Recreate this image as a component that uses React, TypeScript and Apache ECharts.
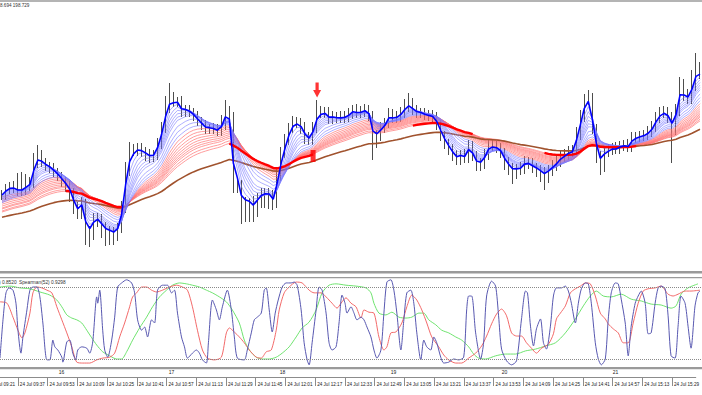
import React, { useEffect, useRef } from "react";
import * as echarts from "echarts";

// ---- price bars (close per bar, wick extensions above / below body) ----
const closes = [
  105, 111, 113, 112, 109, 110, 114, 117, 137, 145, 138, 134, 132, 128, 124, 119,
  114, 108, 94, 87, 97, 70, 68, 81, 82, 74, 69, 69, 67, 73, 93, 130,
  150, 150, 152, 149, 146, 143, 145, 156, 172, 192, 202, 198, 198, 188, 190, 188,
  184, 179, 175, 171, 172, 171, 169, 175, 188, 180, 115, 115, 96, 98, 98, 93,
  102, 107, 107, 106, 98, 125, 147, 160, 172, 178, 177, 172, 162, 160, 172, 187,
  188, 187, 181, 183, 182, 182, 183, 186, 190, 187, 188, 190, 185, 160, 165, 172,
  177, 186, 182, 183, 187, 193, 196, 190, 187, 187, 185, 184, 183, 176, 165, 157,
  151, 145, 141, 145, 143, 154, 145, 135, 137, 145, 155, 154, 152, 148, 138, 133,
  129, 131, 132, 138, 137, 133, 131, 128, 125, 130, 134, 138, 143, 145, 148, 149,
  165, 183, 200, 202, 172, 145, 134, 148, 150, 152, 151, 154, 155, 153, 162, 163,
  164, 165, 168, 173, 182, 187, 188, 183, 173, 190, 215, 205, 202, 215, 230, 227,
];
const hiExt = [
  5, 5, 5, 6, 15, 18, 12, 6, 10, 10, 5, 4, 4, 5, 4, 4,
  4, 5, 4, 4, 6, 4, 4, 6, 5, 4, 4, 5, 4, 4, 6, 8,
  8, 6, 5, 5, 4, 5, 5, 6, 6, 12, 15, 6, 5, 6, 5, 5,
  4, 5, 4, 5, 4, 5, 5, 10, 12, 6, 8, 6, 5, 5, 4, 6,
  5, 5, 5, 5, 4, 6, 6, 6, 5, 6, 5, 5, 6, 6, 6, 13,
  6, 5, 6, 6, 5, 7, 6, 6, 5, 6, 6, 6, 5, 4, 5, 6,
  5, 6, 5, 6, 6, 8, 11, 6, 5, 5, 5, 5, 6, 5, 4, 4,
  4, 5, 5, 5, 6, 6, 5, 4, 5, 6, 6, 5, 5, 5, 4, 5,
  4, 5, 6, 6, 5, 5, 4, 4, 5, 5, 6, 6, 6, 6, 6, 6,
  8, 7, 6, 8, 5, 4, 4, 6, 6, 5, 6, 5, 5, 6, 6, 5,
  5, 5, 6, 6, 6, 6, 6, 5, 5, 6, 8, 6, 6, 15, 17, 8,
];
const loExt = [
  5, 5, 5, 5, 5, 5, 5, 5, 5, 5, 5, 5, 5, 5, 5, 6,
  6, 10, 8, 6, 6, 15, 15, 8, 8, 12, 15, 14, 12, 8, 6, 6,
  6, 6, 6, 6, 7, 6, 5, 5, 5, 5, 5, 5, 5, 5, 5, 5,
  5, 5, 5, 5, 5, 5, 5, 5, 5, 8, 8, 8, 20, 18, 20, 15,
  10, 10, 15, 15, 8, 6, 6, 5, 5, 5, 5, 6, 6, 5, 5, 5,
  5, 5, 5, 5, 5, 5, 5, 5, 5, 5, 5, 5, 6, 20, 8, 6,
  5, 5, 5, 5, 5, 5, 5, 5, 5, 5, 5, 5, 5, 6, 6, 6,
  6, 6, 6, 6, 6, 6, 6, 6, 6, 6, 5, 5, 5, 6, 8, 8,
  13, 8, 6, 6, 6, 6, 8, 10, 15, 8, 6, 5, 5, 5, 5, 5,
  5, 5, 5, 5, 6, 8, 9, 6, 5, 5, 5, 5, 5, 5, 5, 5,
  5, 5, 5, 5, 5, 5, 5, 6, 36, 8, 6, 6, 6, 6, 6, 6,
];

// ---- moving average ribbons ----
const bluePeriods = [2, 3, 4, 5, 6, 7, 8, 10, 12, 14];
const blueSeeds = [105, 104, 103, 102, 101, 100, 99, 98, 97, 96];
const redPeriods = [16, 18, 20, 22, 24, 26, 28, 30, 33, 36];
const redSeeds = [103, 101, 99, 97, 95, 93, 91, 90, 88, 87];
const brownPeriod = 60;
const brownSeed = 82;
const thickRedSegments = [[16, 30], [57, 78], [103, 118], [136, 159]];

// signals
const squareSignal = [[78, 144]];
const arrowSignal = [[79, 210]];

// ---- Spearman oscillators: [bar, value] ----
const spearmanFast = [
  [-0.5, -0.78], [0.25, 0.07], [1, 0.67], [1.75, 0.78], [2.75, 0.73], [3.5, 0.44], [4, -0.16], [4.75, -0.67], [5.25, -0.31], [6.25, 0.29], [7, 0.73], [7.75, 0.8], [8.75, 0.8], [9.5, 0.58], [10.25, 0], [11.25, -0.82], [12, -0.82], [12.75, -0.38], [13.25, -0.53], [14, -0.6], [15, -0.76], [15.25, -0.87], [16.25, -0.42], [17, -0.38], [17.75, -0.67], [18.5, -0.82], [19, -0.6], [20, -0.53], [21.25, -0.56], [22, -0.67], [22.75, -0.42], [23.75, 0.58], [24, 0.44], [24.5, 0.73], [25.25, -0.16], [25.75, -0.6], [26.5, -0.76], [27.5, -0.38], [28.25, 0.13], [29, 0.8], [30, 0.89], [31.25, 0.96], [32.5, 0.89], [33.25, 0.67], [34, 0.07], [35, -0.16], [35.75, -0.09], [36.5, -0.31], [37.5, 0.07], [38.25, 0], [39, 0.73], [40.25, 0.84], [41.5, 0.84], [42.5, 0.67], [43.25, 0.73], [44, 0.22], [45, -0.31], [45.75, -0.53], [46.5, -0.78], [47.75, -0.67], [48.75, -0.6], [49.5, -0.67], [50.25, -0.82], [51.25, -0.89], [51.75, -0.44], [52.75, 0.51], [53.75, 0.29], [54.5, 0.07], [55.25, 0.36], [56.5, 0.73], [57.5, 0.29], [58.25, -0.31], [59, -0.78], [60.75, -0.82], [61.5, -0.6], [62.5, -0.22], [63.25, 0.07], [64, 0.13], [65, 0.22], [65.75, 0.73], [66.25, 0.78], [67, 0.29], [67.75, -0.2], [68.5, 0.22], [69.25, 0.51], [70.25, 0.8], [71.25, 0.89], [72.5, 0.89], [73.25, 0.91], [74, 0.84], [75, 0.29], [75.75, -0.44], [76.5, -0.82], [77, -0.93], [77.75, -0.44], [78.75, 0.29], [79.5, 0.8], [80.25, 0.73], [81.25, 0.22], [82, -0.44], [82.75, -0.6], [83.75, -0.53], [84.5, 0], [85.25, 0.62], [86, 0.44], [86.5, 0.22], [87.5, 0.36], [88.25, 0.22], [89, 0.07], [90, 0.13], [90.75, 0.07], [91.5, -0.09], [92.5, -0.31], [93.25, -0.6], [94, -0.78], [95, -0.6], [95.75, 0.22], [96.5, 0.91], [97.5, 0.96], [98.25, 0.73], [99, 0.22], [100, -0.6], [100.75, 0.07], [101.5, 0.67], [102.5, 0.73], [103.25, 0.44], [104, -0.22], [105, -0.82], [105.75, -0.38], [106.5, -0.53], [107.5, -0.6], [108.25, -0.31], [109, -0.44], [110, -0.76], [110.75, -0.89], [112, -0.87], [113.25, -0.8], [114.5, -0.82], [115.75, -0.76], [116.5, 0.29], [117, 0.6], [117.75, 0.6], [118.75, -0.22], [120, -0.8], [120.75, -0.44], [121.5, 0.6], [122.75, 0.93], [123.75, 0.82], [124.5, 0.16], [125.25, -0.58], [126.5, -0.84], [127.75, -0.93], [129, -0.84], [130.25, 0.09], [131.25, 0.71], [131.75, 0.67], [132.5, -0.07], [133.25, -0.51], [134, -0.13], [135, 0.09], [135.75, -0.44], [136.5, -0.58], [137.5, -0.07], [138.25, 0.6], [139, 0.78], [140.25, 0.78], [141.25, 0.82], [142, 0.71], [142.75, 0.44], [143.75, 0], [144.5, 0.44], [145.25, 0.76], [146.25, 0.89], [147, 0.87], [147.75, 0.44], [148.75, -0.44], [149.5, -0.8], [150.25, -0.93], [151.25, -0.8], [152, 0.09], [152.75, 0.67], [153.75, 0.89], [154.5, 0.87], [155.25, 0.53], [156.25, 0], [157, -0.73], [157.75, -0.07], [158.75, 0.44], [159.5, 0.6], [160.25, 0.71], [161.25, 0.44], [162, -0.24], [162.75, -0.22], [163.75, 0.44], [164.5, 0.78], [165.25, 0.82], [166.25, 0.76], [167, 0.16], [167.75, -0.73], [168.75, -0.78], [169.5, -0.07], [170.25, 0.6], [171.25, 0.44], [172, -0.07], [172.75, -0.56], [173.75, 0.38], [174.5, 0.67], [175, 0.71],
];
const spearmanMid = [
  [-0.5, 0.47], [1.25, 0.44], [2.75, 0.13], [4, -0.16], [5, -0.33], [5.75, -0.22], [7, 0.22], [7.75, 0.67], [8.75, 0.8], [10, 0.78], [11.25, 0.73], [12.5, 0.67], [13.75, 0.36], [15, 0.07], [16.25, -0.22], [17.5, -0.53], [18.75, -0.87], [20.25, -0.89], [22, -0.89], [23.75, -0.82], [25.25, -0.78], [27, -0.76], [28.25, -0.67], [29.5, -0.31], [30.75, 0], [32, 0.36], [32.75, 0.58], [33.75, 0.67], [35, 0.8], [36.25, 0.8], [37.5, 0.73], [38.75, 0.69], [40.25, 0.73], [42, 0.8], [43.75, 0.84], [45.25, 0.8], [46.5, 0.73], [47.75, 0.36], [49, -0.16], [50.25, -0.6], [51.5, -0.78], [53.25, -0.82], [55, -0.76], [56.25, -0.22], [57, -0.11], [58.25, -0.2], [59.5, -0.31], [60.75, -0.44], [62, -0.6], [63.75, -0.76], [65, -0.78], [66.25, -0.64], [67.5, -0.6], [68.75, -0.16], [69.5, 0.29], [70.75, 0.67], [72, 0.8], [73.75, 0.91], [75.25, 0.89], [77, 0.73], [78.25, 0.67], [80, 0.67], [81.25, 0.58], [82.75, 0.44], [84, 0.33], [85, 0.44], [86.25, 0.56], [87.5, 0.44], [88.75, 0.36], [90, 0.11], [90.75, 0.29], [92, 0.24], [93.25, 0.22], [94.5, -0.31], [95.75, -0.6], [96.5, -0.53], [97.5, -0.22], [98.75, -0.2], [100.25, 0], [101.5, 0.36], [102.75, 0.62], [104, 0.51], [105.25, 0.29], [106.5, 0], [107.75, -0.31], [109.5, -0.53], [110.75, -0.71], [112, -0.82], [113.75, -0.89], [115.25, -0.89], [117, -0.78], [118.75, -0.67], [120.25, -0.51], [121.5, -0.29], [122.75, -0.02], [124, 0.2], [125.25, 0.31], [126.5, 0.16], [127.75, -0.22], [129, -0.29], [130.25, -0.29], [131.5, -0.44], [132.75, -0.56], [134, -0.67], [135.25, -0.56], [137, -0.47], [138.25, -0.24], [139, 0.09], [140, 0.22], [141.25, 0.38], [142.5, 0.67], [143.75, 0.76], [145, 0.82], [146.25, 0.89], [147.5, 0.87], [148.75, 0.6], [150, 0.22], [151.25, 0.09], [152, -0.02], [153.25, -0.13], [154.5, -0.22], [155.75, -0.44], [157, -0.44], [158.25, 0], [159.5, 0.44], [160.75, 0.71], [162, 0.76], [163.75, 0.78], [165.25, 0.82], [167, 0.64], [168.25, 0.6], [169.5, 0.64], [171.25, 0.71], [172.75, 0.71], [175, 0.73],
];
const spearmanSlow = [
  [-0.5, 0.8], [2, 0.82], [4.5, 0.78], [7, 0.76], [9.5, 0.69], [12, 0.62], [13.75, 0.51], [15, 0.36], [16.25, 0.18], [17.5, 0.11], [18.75, 0.07], [20, 0], [21.25, -0.16], [22.5, -0.33], [23.75, -0.49], [25.25, -0.64], [27, -0.73], [28.75, -0.8], [30, -0.8], [31.25, -0.64], [32.75, -0.38], [34.5, -0.11], [36.25, 0.13], [37.75, 0.36], [39.5, 0.58], [41.25, 0.73], [42.75, 0.84], [44.5, 0.89], [46.25, 0.87], [47.75, 0.84], [49.5, 0.8], [51.25, 0.73], [52.75, 0.67], [54.5, 0.58], [56.25, 0.47], [57.75, 0.29], [59.5, 0], [60.75, -0.38], [62, -0.6], [63.75, -0.76], [65.25, -0.8], [67, -0.8], [68.75, -0.76], [70.25, -0.67], [72, -0.53], [73.75, -0.31], [75.25, -0.11], [77, 0.02], [78.75, 0.29], [80.25, 0.67], [82, 0.84], [83.75, 0.87], [86.25, 0.84], [88.75, 0.82], [91.25, 0.78], [92.5, 0.67], [93.25, 0.44], [94.5, 0.22], [96.25, 0.18], [97.75, 0.24], [99.5, 0.13], [101.25, 0.11], [102.75, 0.13], [104.5, 0.22], [105.75, 0.22], [107, 0.07], [108.75, -0.04], [110.25, -0.16], [112, -0.22], [113.75, -0.31], [115.25, -0.38], [117, -0.53], [118.25, -0.69], [119.5, -0.78], [121.25, -0.8], [123.75, -0.73], [126.25, -0.69], [128.75, -0.69], [131.25, -0.62], [133.75, -0.58], [136.25, -0.51], [138.75, -0.44], [141.25, -0.22], [143.75, 0.09], [145.75, 0.38], [147.5, 0.6], [149, 0.71], [150.75, 0.6], [152.75, 0.58], [155.25, 0.64], [157.75, 0.53], [160.25, 0.49], [162.75, 0.42], [165.25, 0.4], [167.75, 0.33], [169, 0.38], [170.25, 0.64], [172, 0.78], [174.5, 0.87],
];
const oscLevels = [0.8, -0.8];

// ---- axis labels ----
const timeLabels = [
  "09:21", "09:37", "09:53", "10:09", "10:25", "10:41", "10:57", "11:13", "11:29", "11:45", "12:01", "12:17",
  "12:33", "12:49", "13:05", "13:21", "13:37", "13:53", "14:09", "14:25", "14:41", "14:57", "15:13", "15:29",
];
const datePrefix = "24 Jul ";
const dayLabels = ["16", "17", "18", "19", "20", "21"];
const dayMinutes = [60.5, 119.7, 179.4, 239.1, 298.9, 358.6];
const axisStartMinute = 27.4;
const headerText = "8.694 198.729";
const oscTextA = ") 0.8520";
const oscTextB = "Spearman(52) 0.9298";

const FONT = "Liberation Sans";

function ema(src: number[], period: number, seed: number): number[] {
  const a = 2 / (period + 1);
  let e = seed;
  return src.map((v) => (e = e + a * (v - e)));
}
function toMinutes(s: string): number {
  const [h, m] = s.split(":").map(Number);
  return (h - 9) * 60 + m;
}

export default function App() {
  const ref = useRef<HTMLDivElement>(null);
  useEffect(() => {
    const chart = echarts.init(ref.current!, null, { renderer: "svg" });
    const cats = closes.map((_, i) => String(i));
    const candles = closes.map((c, i) => {
      const o = i === 0 ? c : closes[i - 1];
      return [o, c, Math.min(o, c) - loExt[i], Math.max(o, c) + hiExt[i]];
    });
    const timeValues = timeLabels.map(toMinutes);
    const minT = axisStartMinute;
    const maxT = minT + 702 / 1.875;
    const visibleTimes = timeValues.filter((t) => t >= minT);
    const hiddenTimes = timeLabels.filter((_, k) => timeValues[k] < minT);

    const series: any[] = [];
    series.push({
      type: "candlestick",
      xAxisIndex: 0,
      yAxisIndex: 0,
      data: candles,
      barWidth: 1.3,
      itemStyle: { color: "#1a1a1a", color0: "#1a1a1a", borderColor: "#3a3a3a", borderColor0: "#3a3a3a", borderWidth: 1, opacity: 0.9 },
      z: 1,
    });
    redPeriods.forEach((p, k) => {
      series.push({
        type: "line",
        name: "EMA" + p,
        xAxisIndex: 0,
        yAxisIndex: 0,
        data: ema(closes, p, redSeeds[k]),
        showSymbol: false,
        lineStyle: { color: "#ff7272", width: 0.7 },
        z: 2,
      });
    });
    series.push({
      type: "line",
      name: "EMA" + brownPeriod,
      xAxisIndex: 0,
      yAxisIndex: 0,
      data: ema(closes, brownPeriod, brownSeed),
      showSymbol: false,
      lineStyle: { color: "#a0522d", width: 1.6 },
      z: 3,
    });
    for (let k = bluePeriods.length - 1; k >= 1; k--) {
      series.push({
        type: "line",
        name: "EMA" + bluePeriods[k],
        xAxisIndex: 0,
        yAxisIndex: 0,
        data: ema(closes, bluePeriods[k], blueSeeds[k]),
        showSymbol: false,
        lineStyle: { color: "#7878ff", width: 0.6 },
        z: 4,
      });
    }
    const slowRed = ema(closes, redPeriods[redPeriods.length - 1], redSeeds[redSeeds.length - 1]);
    const thick = slowRed.map((v, i) =>
      thickRedSegments.some(([a, b]) => i >= a && i <= b) ? v : null
    );
    series.push({
      type: "line",
      name: "signal",
      xAxisIndex: 0,
      yAxisIndex: 0,
      data: thick,
      showSymbol: false,
      connectNulls: false,
      lineStyle: { color: "#ff0000", width: 2.4 },
      z: 5,
    });
    series.push({
      type: "line",
      name: "EMA" + bluePeriods[0],
      xAxisIndex: 0,
      yAxisIndex: 0,
      data: ema(closes, bluePeriods[0], blueSeeds[0]),
      showSymbol: false,
      lineStyle: { color: "#0000ff", width: 1.6 },
      z: 6,
    });
    series.push({
      type: "scatter",
      xAxisIndex: 0,
      yAxisIndex: 0,
      data: squareSignal,
      symbol: "rect",
      symbolSize: [5, 12],
      itemStyle: { color: "#ff0000" },
      z: 7,
    });
    series.push({
      type: "scatter",
      xAxisIndex: 0,
      yAxisIndex: 0,
      data: arrowSignal,
      symbol: "path://M3,0 L7,0 L7,7 L10,7 L5,14 L0,7 L3,7 Z",
      symbolSize: [8, 15],
      itemStyle: { color: "#ff0000" },
      z: 7,
    });
    const oscLine = (name: string, data: number[][], color: string, extra: any = {}) => ({
      type: "line",
      name,
      xAxisIndex: 1,
      yAxisIndex: 1,
      data,
      showSymbol: false,
      smooth: 0.25,
      lineStyle: { color, width: 1 },
      ...extra,
    });
    series.push(
      oscLine("Spearman slow", spearmanSlow, "#6fe36f", {
        markLine: {
          silent: true,
          symbol: "none",
          label: { show: false },
          lineStyle: { color: "#8a8a8a", type: "dotted", width: 1 },
          data: oscLevels.map((v) => ({ yAxis: v })),
        },
      })
    );
    series.push(oscLine("Spearman mid", spearmanMid, "#f26a6a"));
    series.push(oscLine("Spearman fast", spearmanFast, "#5858b0"));

    const labelFor = (v: number) => {
      const k = timeValues.findIndex((t) => Math.abs(t - v) < 0.01);
      return k >= 0 ? datePrefix + timeLabels[k] : "";
    };

    const option: any = {
      animation: false,
      backgroundColor: "#ffffff",
      textStyle: { fontFamily: FONT },
      grid: [
        { left: 0, right: 0, top: 3, height: 269 },
        { left: 0, right: 0, top: 278, height: 90 },
        { left: 0, right: 0, top: 376, height: 1 },
      ],
      xAxis: [
        { type: "category", gridIndex: 0, data: cats, boundaryGap: true, show: false },
        { type: "value", gridIndex: 1, min: -0.5, max: closes.length - 0.5, show: false },
        {
          type: "value",
          gridIndex: 2,
          min: minT,
          max: maxT,
          position: "bottom",
          axisLine: { show: true, lineStyle: { color: "#8c8c8c", width: 1 } },
          axisTick: { show: true, customValues: visibleTimes, length: 9, lineStyle: { color: "#8c8c8c" } },
          axisLabel: {
            customValues: visibleTimes,
            formatter: labelFor,
            align: "left",
            padding: [0, 0, 0, 2],
            margin: 5,
            fontSize: 4.6,
            color: "#222",
            fontFamily: FONT,
            showMinLabel: true,
            showMaxLabel: true,
          },
          splitLine: { show: false },
        },
        {
          type: "value",
          gridIndex: 2,
          min: minT,
          max: maxT,
          position: "top",
          axisLine: { show: false },
          axisTick: { show: false },
          axisLabel: {
            customValues: dayMinutes,
            formatter: (v: number) => {
              const k = dayMinutes.findIndex((t) => Math.abs(t - v) < 0.01);
              return k >= 0 ? dayLabels[k] : "";
            },
            margin: 2,
            fontSize: 5,
            color: "#222",
            fontFamily: FONT,
          },
          splitLine: { show: false },
        },
      ],
      yAxis: [
        { type: "value", gridIndex: 0, min: 28, max: 297, show: false },
        { type: "value", gridIndex: 1, min: -1, max: 1, show: false },
        { type: "value", gridIndex: 2, show: false },
      ],
      series,
      graphic: [
        { type: "rect", shape: { x: 0, y: 0, width: 702, height: 2 }, style: { fill: "#b4b4b4" }, z: 10 },
        { type: "rect", shape: { x: 0, y: 271, width: 702, height: 2.5 }, style: { fill: "#9a9a9a" }, z: 10 },
        { type: "rect", shape: { x: 0, y: 277, width: 702, height: 1.2 }, style: { fill: "#9a9a9a" }, z: 10 },
        { type: "rect", shape: { x: 0, y: 367, width: 702, height: 2.2 }, style: { fill: "#9a9a9a" }, z: 10 },
        ...hiddenTimes.map((t, k) => ({
          type: "text",
          x: -12 + 2 - k * 30,
          y: 382,
          style: { text: datePrefix + t, fontSize: 4.6, fill: "#222", fontFamily: FONT },
          z: 10,
        })),
        {
          type: "text",
          x: 0,
          y: 3,
          style: { text: headerText, fontSize: 4.6, fill: "#333", fontFamily: FONT },
          z: 10,
        },
        {
          type: "text",
          x: -1,
          y: 279.5,
          style: { text: oscTextA, fontSize: 4.8, fill: "#333", fontFamily: FONT },
          z: 10,
        },
        {
          type: "text",
          x: 19,
          y: 279.5,
          style: { text: oscTextB, fontSize: 4.8, fill: "#333", fontFamily: FONT },
          z: 10,
        },
      ],
    };
    chart.setOption(option);
    return () => chart.dispose();
  }, []);
  return <div ref={ref} style={{ position: "absolute", left: 0, top: 0, width: 702, height: 395 }} />;
}
